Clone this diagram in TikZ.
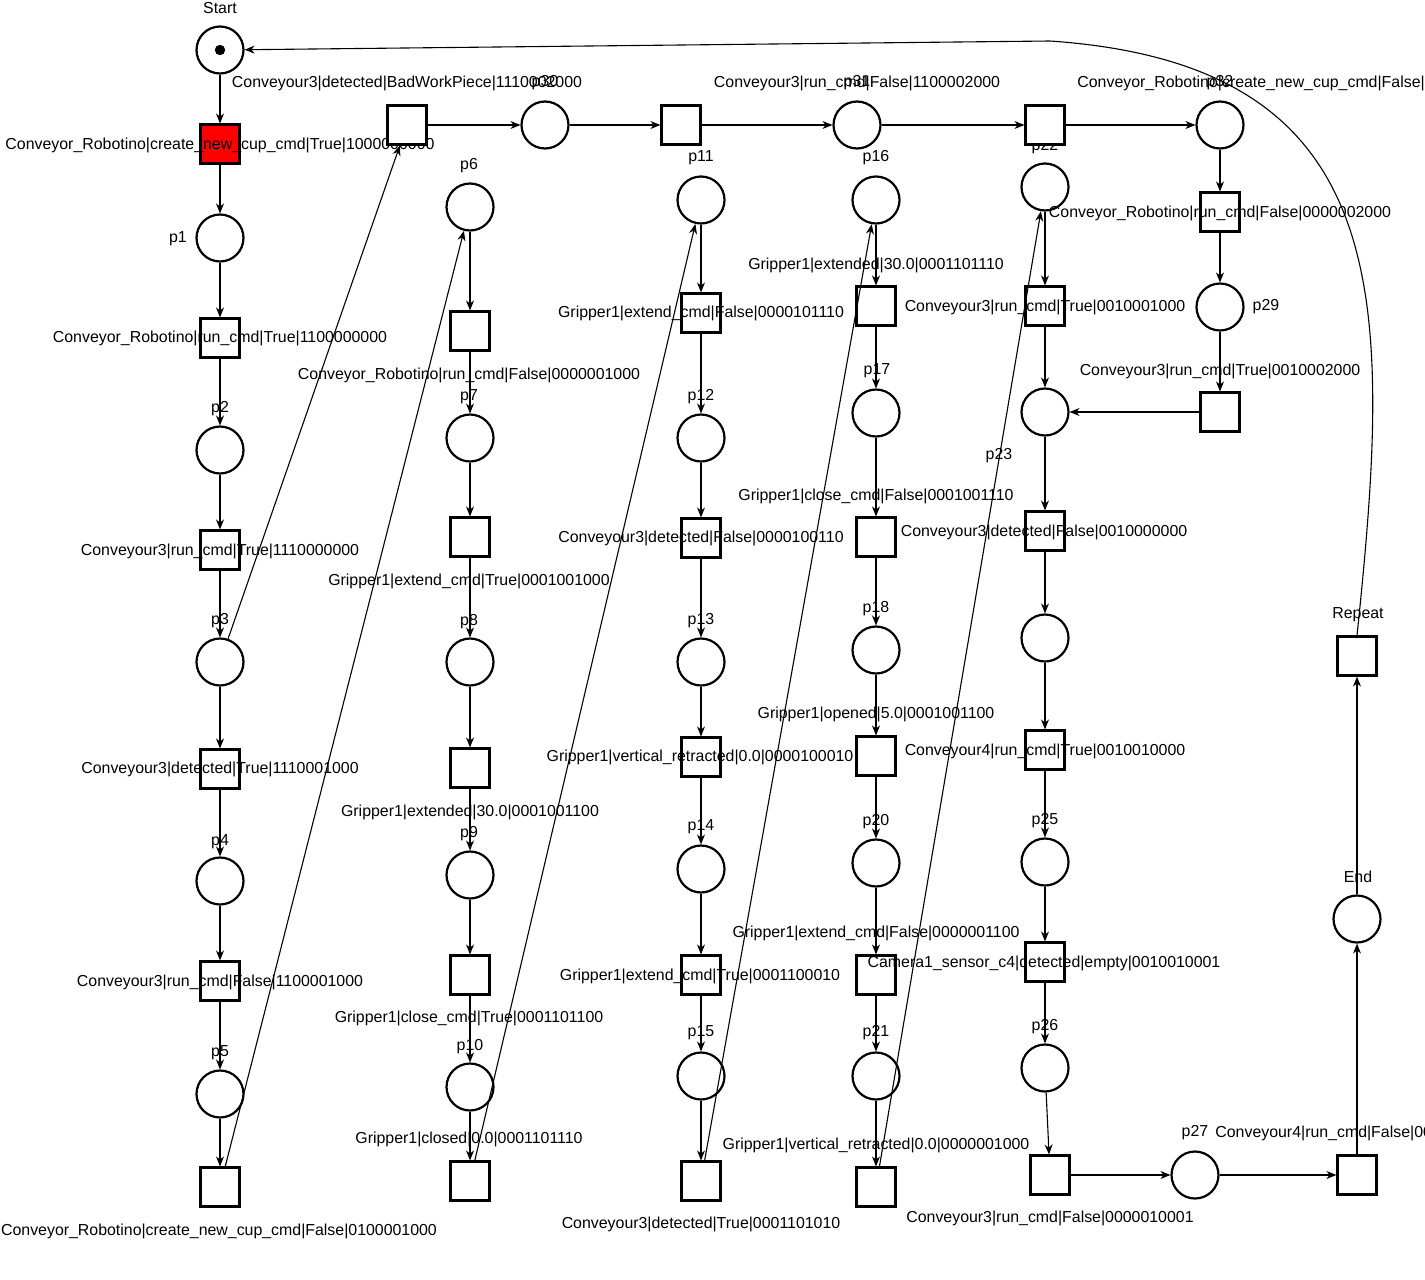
\documentclass[tikz,border=0pt]{standalone}
\usepackage{fontspec}
\setmainfont{Liberation Sans}
\usepackage{tikz}
\usetikzlibrary{arrows.meta}
\tikzset{
	place/.style={circle, draw, fill=white, line width=1.1pt, minimum size=23.5pt, inner sep=0pt},
	trans/.style={rectangle, draw, fill=white, line width=1.1pt, minimum size=19.5pt, inner sep=0pt},
	arc/.style={line width=0.55pt, -{Stealth[length=5pt,width=4pt]}},
	lab/.style={font=\fontsize{7.95}{9}\selectfont, inner sep=0pt}
}
\begin{document}
\begin{tikzpicture}[x=0.5pt, y=-0.5pt]
			\useasboundingbox (0,0) rectangle (1425,1280);
			\clip (0,0) rectangle (1425,1280);
			% first column
			\node[place] (start) at (220,50) {};
			\fill (start) circle (2.6pt);
			\node[trans, fill=red] (t1) at (220,144) {};
			\node[place] (p1) at (220,238) {};
			\node[trans] (t2) at (220,338) {};
			\node[place] (p2) at (220,450) {};
			\node[trans] (t3) at (220,550) {};
			\node[place] (p3) at (220,662) {};
			\node[trans] (t4) at (220,769) {};
			\node[place] (p4) at (220,881) {};
			\node[trans] (t5) at (220,981) {};
			\node[place] (p5) at (220,1094) {};
			\node[trans] (t6) at (220,1187) {};
			% gripper columns
			\node[place] (p6) at (470,207) {};
			\node[trans] (u1) at (470,331) {};
			\node[place] (p7) at (470,438) {};
			\node[trans] (u2) at (470,537) {};
			\node[place] (p8) at (470,662) {};
			\node[trans] (u3) at (470,768) {};
			\node[place] (p9) at (470,875) {};
			\node[trans] (u4) at (470,975) {};
			\node[place] (p10) at (470,1087) {};
			\node[trans] (u5) at (470,1181) {};
			\node[place] (p11) at (701,200) {};
			\node[trans] (v1) at (701,313) {};
			\node[place] (p12) at (701,438) {};
			\node[trans] (v2) at (701,538) {};
			\node[place] (p13) at (701,662) {};
			\node[trans] (v3) at (701,757) {};
			\node[place] (p14) at (701,869) {};
			\node[trans] (v4) at (701,975) {};
			\node[place] (p15) at (701,1076) {};
			\node[trans] (v5) at (701,1181) {};
			\node[place] (p16) at (876,200) {};
			\node[trans] (w1) at (876,306) {};
			\node[place] (p17) at (876,413) {};
			\node[trans] (w2) at (876,537) {};
			\node[place] (p18) at (876,650) {};
			\node[trans] (w3) at (876,756) {};
			\node[place] (p20) at (876,863) {};
			\node[trans] (w4) at (876,975) {};
			\node[place] (p21) at (876,1076) {};
			\node[trans] (w5) at (876,1187) {};
			% last columns
			\node[place] (p22) at (1045,187) {};
			\node[trans] (x1) at (1045,306) {};
			\node[place] (p23) at (1045,412) {};
			\node[trans] (x2) at (1045,531) {};
			\node[place] (p24) at (1045,638) {};
			\node[trans] (x3) at (1045,750) {};
			\node[place] (p25) at (1045,862) {};
			\node[trans] (x4) at (1045,962) {};
			\node[place] (p26) at (1045,1068) {};
			\node[trans] (x5) at (1050,1175) {};
			\node[place] (p27) at (1195,1175) {};
			\node[trans] (x6) at (1357,1175) {};
			\node[place] (pend) at (1357,919) {};
			\node[trans] (rep) at (1357,656) {};
			\node[trans] (r1) at (1220,212) {};
			\node[place] (p29) at (1220,307) {};
			\node[trans] (r2) at (1220,412) {};
			% labels
			\node[lab] (lstart) at (220,8) {Start};
			\node[lab] (lt1) at (220,145) {Conveyor\_Robotino|create\_new\_cup\_cmd|True|1000000000};
			\node[lab] (lp1) at (178,239) {p1};
			\node[lab] (lt2) at (220,338) {Conveyor\_Robotino|run\_cmd|True|1100000000};
			\node[lab] (lp2) at (220,409) {p2};
			\node[lab] (lt3) at (220,551) {Conveyour3|run\_cmd|True|1110000000};
			\node[lab] (lp3) at (220,621) {p3};
			\node[lab] (lt4) at (220,769) {Conveyour3|detected|True|1110001000};
			\node[lab] (lp4) at (220,842) {p4};
			\node[lab] (lt5) at (220,982) {Conveyour3|run\_cmd|False|1100001000};
			\node[lab] (lp5) at (220,1053) {p5};
			\node[lab] (lt6) at (219,1231) {Conveyor\_Robotino|create\_new\_cup\_cmd|False|0100001000};
			\node[lab] (lp6) at (469,166) {p6};
			\node[lab] (lu1) at (469,375) {Conveyor\_Robotino|run\_cmd|False|0000001000};
			\node[lab] (lp7) at (469,397) {p7};
			\node[lab] (lu2) at (469,581) {Gripper1|extend\_cmd|True|0001001000};
			\node[lab] (lp8) at (469,622) {p8};
			\node[lab] (lu3) at (470,812) {Gripper1|extended|30.0|0001001100};
			\node[lab] (lp9) at (469,834) {p9};
			\node[lab] (lu4) at (469,1018) {Gripper1|close\_cmd|True|0001101100};
			\node[lab] (lp10) at (470,1047) {p10};
			\node[lab] (lu5) at (469,1139) {Gripper1|closed|0.0|0001101110};
			\node[lab] (lp11) at (701,158) {p11};
			\node[lab] (lv1) at (701,313) {Gripper1|extend\_cmd|False|0000101110};
			\node[lab] (lp12) at (701,397) {p12};
			\node[lab] (lv2) at (701,538) {Conveyour3|detected|False|0000100110};
			\node[lab] (lp13) at (701,621) {p13};
			\node[lab] (lv3) at (700,757) {Gripper1|vertical\_retracted|0.0|0000100010};
			\node[lab] (lp14) at (701,827) {p14};
			\node[lab] (lv4) at (700,976) {Gripper1|extend\_cmd|True|0001100010};
			\node[lab] (lp15) at (701,1033) {p15};
			\node[lab] (lv5) at (701,1224) {Conveyour3|detected|True|0001101010};
			\node[lab] (lp16) at (876,158) {p16};
			\node[lab] (lw1) at (876,265) {Gripper1|extended|30.0|0001101110};
			\node[lab] (lp17) at (877,371) {p17};
			\node[lab] (lw2) at (876,496) {Gripper1|close\_cmd|False|0001001110};
			\node[lab] (lp18) at (876,609) {p18};
			\node[lab] (lw3) at (876,714) {Gripper1|opened|5.0|0001001100};
			\node[lab] (lp20) at (876,822) {p20};
			\node[lab] (lw4) at (876,933) {Gripper1|extend\_cmd|False|0000001100};
			\node[lab] (lp21) at (876,1033) {p21};
			\node[lab] (lw5) at (876,1145) {Gripper1|vertical\_retracted|0.0|0000001000};
			\node[lab] (lp22) at (1045,147) {p22};
			\node[lab] (lx1) at (1045,307) {Conveyour3|run\_cmd|True|0010001000};
			\node[lab] (lp23) at (999,456) {p23};
			\node[lab] (lx2) at (1044,532) {Conveyour3|detected|False|0010000000};
			\node[lab] (lx3) at (1045,751) {Conveyour4|run\_cmd|True|0010010000};
			\node[lab] (lp25) at (1045,821) {p25};
			\node[lab] (lx4) at (1044,963) {Camera1\_sensor\_c4|detected|empty|0010010001};
			\node[lab] (lp26) at (1045,1027) {p26};
			\node[lab] (lx5) at (1050,1218) {Conveyour3|run\_cmd|False|0000010001};
			\node[lab] (lp27) at (1195,1133) {p27};
			\node[lab, anchor=west] (lx6) at (1215,1133) {Conveyour4|run\_cmd|False|00};
			\node[lab] (lend) at (1358,877) {End};
			\node[lab] (lrep) at (1358,615) {Repeat};
			\node[lab] (lr1) at (1220,213) {Conveyor\_Robotino|run\_cmd|False|0000002000};
			\node[lab] (lp29) at (1266,307) {p29};
			\node[lab] (lr2) at (1220,371) {Conveyour3|run\_cmd|True|0010002000};
			\node[lab] (ltb) at (407,83) {Conveyour3|detected|BadWorkPiece|1110002000};
			\node[lab] (lp30) at (545,83) {p30};
			\node[lab] (ltt2) at (857,83) {Conveyour3|run\_cmd|False|1100002000};
			\node[lab] (lp31) at (857,83) {p31};
			\node[lab, anchor=west] (ltt3) at (1077,83) {Conveyor\_Robotino|create\_new\_cup\_cmd|False|};
			\node[lab] (lp32) at (1220,83) {p32};
			% top row
			\node[trans] (tb) at (407,125) {};
			\node[place] (p30) at (545,125) {};
			\node[trans] (tt2) at (681,125) {};
			\node[place] (p31) at (857,125) {};
			\node[trans] (tt3) at (1045,125) {};
			\node[place] (p32) at (1220,125) {};
			% arcs
			\draw[arc] (start) -- (t1);
			\draw[arc] (t1) -- (p1);
			\draw[arc] (p1) -- (t2);
			\draw[arc] (t2) -- (p2);
			\draw[arc] (p2) -- (t3);
			\draw[arc] (t3) -- (p3);
			\draw[arc] (p3) -- (t4);
			\draw[arc] (t4) -- (p4);
			\draw[arc] (p4) -- (t5);
			\draw[arc] (t5) -- (p5);
			\draw[arc] (p5) -- (t6);
			\draw[arc] (t6) -- (p6);
			\draw[arc] (p3) -- (tb);
			\draw[arc] (tb) -- (p30);
			\draw[arc] (p30) -- (tt2);
			\draw[arc] (tt2) -- (p31);
			\draw[arc] (p31) -- (tt3);
			\draw[arc] (tt3) -- (p32);
			\draw[arc] (p32) -- (r1);
			\draw[arc] (r1) -- (p29);
			\draw[arc] (p29) -- (r2);
			\draw[arc] (r2) -- (p23);
			\draw[arc] (p6) -- (u1);
			\draw[arc] (u1) -- (p7);
			\draw[arc] (p7) -- (u2);
			\draw[arc] (u2) -- (p8);
			\draw[arc] (p8) -- (u3);
			\draw[arc] (u3) -- (p9);
			\draw[arc] (p9) -- (u4);
			\draw[arc] (u4) -- (p10);
			\draw[arc] (p10) -- (u5);
			\draw[arc] (u5) -- (p11);
			\draw[arc] (p11) -- (v1);
			\draw[arc] (v1) -- (p12);
			\draw[arc] (p12) -- (v2);
			\draw[arc] (v2) -- (p13);
			\draw[arc] (p13) -- (v3);
			\draw[arc] (v3) -- (p14);
			\draw[arc] (p14) -- (v4);
			\draw[arc] (v4) -- (p15);
			\draw[arc] (p15) -- (v5);
			\draw[arc] (v5) -- (p16);
			\draw[arc] (p16) -- (w1);
			\draw[arc] (w1) -- (p17);
			\draw[arc] (p17) -- (w2);
			\draw[arc] (w2) -- (p18);
			\draw[arc] (p18) -- (w3);
			\draw[arc] (w3) -- (p20);
			\draw[arc] (p20) -- (w4);
			\draw[arc] (w4) -- (p21);
			\draw[arc] (p21) -- (w5);
			\draw[arc] (w5) -- (p22);
			\draw[arc] (p22) -- (x1);
			\draw[arc] (x1) -- (p23);
			\draw[arc] (p23) -- (x2);
			\draw[arc] (x2) -- (p24);
			\draw[arc] (p24) -- (x3);
			\draw[arc] (x3) -- (p25);
			\draw[arc] (p25) -- (x4);
			\draw[arc] (x4) -- (p26);
			\draw[arc] (p26) -- (x5);
			\draw[arc] (x5) -- (p27);
			\draw[arc] (p27) -- (x6);
			\draw[arc] (x6) -- (pend);
			\draw[arc] (pend) -- (rep);
			\draw[arc] (rep.north) .. controls (1392,300) and (1398,65) .. (1050,41) -- (start);
\end{tikzpicture}
\end{document}
